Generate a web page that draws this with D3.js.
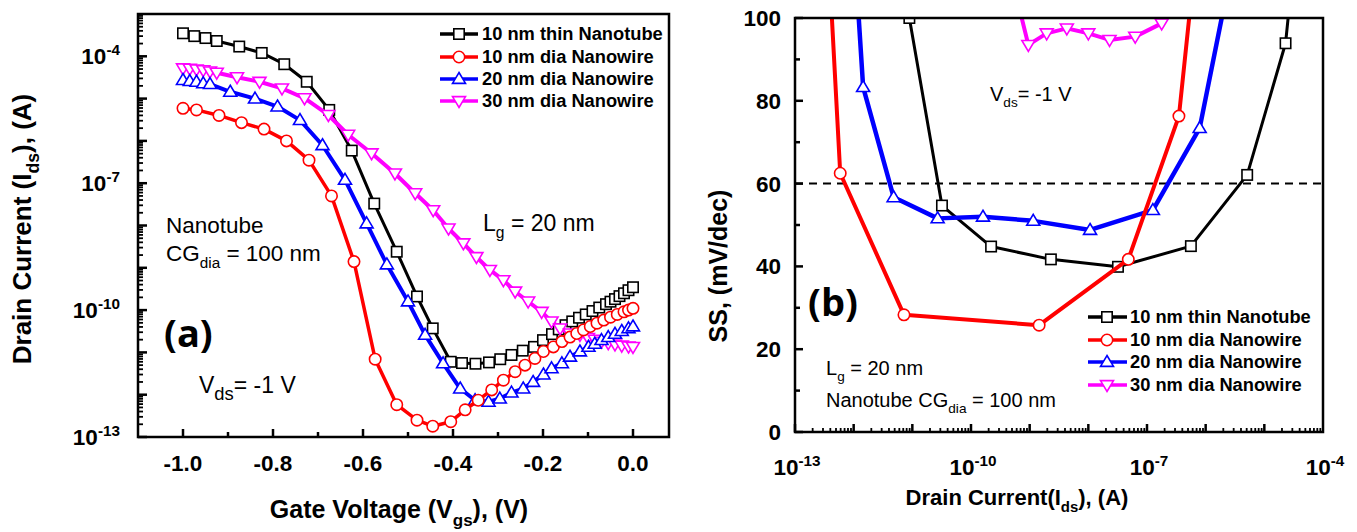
<!DOCTYPE html>
<html><head><meta charset="utf-8">
<script src="https://cdn.jsdelivr.net/npm/d3@7"></script>
<style>body{margin:0;background:#fff}svg{display:block}</style>
</head><body><svg id="c" width="1357" height="532"></svg>
<script>
// ---------- series meta ----------
const seriesNames = ["10 nm thin Nanotube","10 nm dia Nanowire","20 nm dia Nanowire","30 nm dia Nanowire"];
const seriesColors = ["#000000","#ff0000","#0000ff","#ff00ff"];
const seriesMarkers = ["square","circle","triangleUp","triangleDown"];

// ---------- panel (a): Ids vs Vgs ----------
const vgsNanotube = [-1.0,-0.975,-0.95,-0.925,-0.875,-0.825,-0.775,-0.725,-0.675,-0.625,-0.575,-0.525,-0.48,-0.445,-0.405,-0.38,-0.35,-0.32,-0.295,-0.27,-0.245,-0.22,-0.2,-0.18,-0.165,-0.15,-0.135,-0.12,-0.105,-0.09,-0.075,-0.06,-0.05,-0.04,-0.03,-0.02,-0.01,0.0];
const idsNanotube = [3.5e-4,3.0e-4,2.7e-4,2.3e-4,1.7e-4,1.2e-4,6.5e-5,2.5e-5,5.4e-6,5.9e-7,3.3e-8,2.4e-9,2.1e-10,3.7e-11,6.0e-12,5.6e-12,5.4e-12,5.8e-12,6.9e-12,8.7e-12,1.1e-11,1.35e-11,1.95e-11,2.7e-11,3.5e-11,4.4e-11,5.4e-11,6.6e-11,7.9e-11,9.5e-11,1.15e-10,1.38e-10,1.58e-10,1.82e-10,2.14e-10,2.5e-10,2.95e-10,3.47e-10];

const vgsNW10 = [-1.0,-0.97,-0.92,-0.87,-0.82,-0.77,-0.72,-0.67,-0.62,-0.573,-0.525,-0.48,-0.445,-0.405,-0.373,-0.344,-0.314,-0.288,-0.262,-0.24,-0.218,-0.199,-0.177,-0.158,-0.14,-0.125,-0.11,-0.095,-0.08,-0.065,-0.05,-0.035,-0.02,-0.01,0.0];
const idsNW10 = [5.9e-6,5.4e-6,4.0e-6,2.7e-6,1.9e-6,1.0e-6,3.5e-7,5.0e-8,1.4e-9,6.9e-12,5.8e-13,2.5e-13,1.8e-13,2.3e-13,4.4e-13,7.4e-13,1.3e-12,2.2e-12,3.5e-12,5.0e-12,7.2e-12,1.05e-11,1.35e-11,1.8e-11,2.3e-11,2.8e-11,3.4e-11,4.1e-11,4.9e-11,5.8e-11,6.8e-11,7.9e-11,9.1e-11,1.0e-10,1.1e-10];

const vgsNW20 = [-1.0,-0.985,-0.97,-0.955,-0.94,-0.895,-0.84,-0.79,-0.74,-0.69,-0.64,-0.592,-0.547,-0.5,-0.462,-0.422,-0.384,-0.351,-0.321,-0.296,-0.27,-0.244,-0.222,-0.199,-0.181,-0.158,-0.14,-0.118,-0.099,-0.085,-0.07,-0.055,-0.04,-0.025,-0.01,0.0];
const idsNW20 = [2.75e-5,2.6e-5,2.5e-5,2.3e-5,2.2e-5,1.45e-5,1.0e-5,6.5e-6,3.1e-6,7.9e-7,1.2e-7,1.12e-8,1.2e-9,1.6e-10,2.6e-11,5.5e-12,1.4e-12,7.4e-13,6.8e-13,8.1e-13,1.12e-12,1.4e-12,2.0e-12,3.0e-12,4.2e-12,5.5e-12,7.9e-12,1.05e-11,1.35e-11,1.6e-11,1.95e-11,2.3e-11,2.75e-11,3.2e-11,3.7e-11,4.1e-11];

const vgsNW30 = [-1.0,-0.985,-0.97,-0.955,-0.94,-0.925,-0.88,-0.83,-0.78,-0.73,-0.677,-0.633,-0.581,-0.529,-0.484,-0.444,-0.41,-0.377,-0.348,-0.318,-0.288,-0.262,-0.233,-0.203,-0.181,-0.162,-0.14,-0.118,-0.1,-0.085,-0.07,-0.055,-0.04,-0.025,-0.01,0.0];
const idsNW30 = [5.2e-5,5.1e-5,4.9e-5,4.7e-5,4.4e-5,4.1e-5,3.2e-5,2.5e-5,1.74e-5,1.02e-5,4.1e-6,1.4e-6,5.1e-7,1.7e-7,5.8e-8,2.3e-8,8.5e-9,3.8e-9,1.8e-9,8.9e-10,5.1e-10,2.75e-10,1.6e-10,9.1e-11,5.4e-11,3.7e-11,2.8e-11,2.6e-11,2.2e-11,2.0e-11,1.8e-11,1.66e-11,1.55e-11,1.45e-11,1.38e-11,1.35e-11];

// ---------- panel (b): SS vs Ids ----------
const ssIdsNanotube = [8.9e-12,3.2e-11,2.2e-10,2.3e-9,3.2e-8,5.6e-7,5.1e-6,2.3e-5,3.0e-5];
const ssNanotube    = [100,54.7,44.8,41.7,39.9,44.9,62.1,93.9,110];
const ssIdsNW10 = [3.9e-13,5.9e-13,7.2e-12,1.45e-9,4.8e-8,3.5e-7,6.2e-7];
const ssNW10    = [110,62.5,28.3,25.8,41.7,76.3,110];
const ssIdsNW20 = [1.1e-12,1.45e-12,4.8e-12,2.7e-11,1.6e-10,1.15e-9,1.07e-8,1.26e-7,7.9e-7,2.6e-6];
const ssNW20    = [110,83.3,56.7,51.6,52.0,51.0,48.8,53.6,73.4,110];
const ssIdsNW30 = [4.9e-10,9.5e-10,1.95e-9,4.3e-9,1.0e-8,2.3e-8,6.3e-8,1.78e-7,2.8e-7];
const ssNW30    = [110,93.5,96.3,97.5,96.3,94.7,95.5,98.7,110];
const ssIdealLimit = 60;

// ---------- tick labels ----------
const aXTicks = [-1.0,-0.8,-0.6,-0.4,-0.2,0.0];
const aXTickLabels = ["-1.0","-0.8","-0.6","-0.4","-0.2","0.0"];
const aYTickExps = [-4,-7,-10,-13];
const bXTickExps = [-13,-10,-7,-4];
const bYTicks = [0,20,40,60,80,100];

// ---------- drawing ----------
const svg = d3.select("#c");
svg.append("rect").attr("width",1357).attr("height",532).attr("fill","#fff");
const FONT = "'Liberation Sans', Arial, sans-serif";

const A = {l:138, r:669, t:14, b:437};
const B = {l:795, r:1323, t:18, b:432};
const xA = d3.scaleLinear().domain([-1.1, 0.08]).range([A.l, A.r]);
const yA = d3.scaleLog().domain([1e-13, 1e-3]).range([A.b, A.t]);
const xB = d3.scaleLog().domain([1e-13, 1e-4]).range([B.l, B.r]);
const yB = d3.scaleLinear().domain([0, 100]).range([B.b, B.t]);

const defs = svg.append("defs");
defs.append("clipPath").attr("id","clipA").append("rect").attr("x",A.l).attr("y",A.t).attr("width",A.r-A.l).attr("height",A.b-A.t);
defs.append("clipPath").attr("id","clipB").append("rect").attr("x",B.l).attr("y",B.t).attr("width",B.r-B.l).attr("height",B.b-B.t);

function drawMarker(g, type, x, y, color, s, sw) {
  if (type === "square") {
    g.append("rect").attr("x",x-s).attr("y",y-s).attr("width",2*s).attr("height",2*s)
      .attr("fill","#fff").attr("stroke",color).attr("stroke-width",sw);
  } else if (type === "circle") {
    g.append("circle").attr("cx",x).attr("cy",y).attr("r",s+0.5)
      .attr("fill","#fff").attr("stroke",color).attr("stroke-width",sw);
  } else if (type === "triangleUp") {
    const h = s*1.25;
    g.append("path").attr("d",`M${x},${y-h}L${x+h},${y+s*0.85}L${x-h},${y+s*0.85}Z`)
      .attr("fill","#fff").attr("stroke",color).attr("stroke-width",sw).attr("stroke-linejoin","miter");
  } else {
    const h = s*1.25;
    g.append("path").attr("d",`M${x},${y+h}L${x+h},${y-s*0.85}L${x-h},${y-s*0.85}Z`)
      .attr("fill","#fff").attr("stroke",color).attr("stroke-width",sw).attr("stroke-linejoin","miter");
  }
}

function drawSeries(g, xs, ys, sx, sy, i, lw, ms, msw) {
  const pts = xs.map((x,k)=>[sx(x), sy(ys[k])]);
  g.append("path").attr("d", d3.line()(pts)).attr("fill","none")
    .attr("stroke",seriesColors[i]).attr("stroke-width",lw).attr("stroke-linejoin","round");
  pts.forEach(p=>drawMarker(g, seriesMarkers[i], p[0], p[1], seriesColors[i], ms, msw));
}

// text with sub/superscripts: parts = [[text, "n"|"sub"|"sup"]]
function richText(g, x, y, parts, size, weight, anchor, family, subScale) {
  const t = g.append("text").attr("x",x).attr("y",y).attr("font-size",size)
    .attr("font-weight",weight||"normal").attr("text-anchor",anchor||"start")
    .attr("font-family",family||FONT).attr("fill","#000");
  let shift = 0;
  parts.forEach(([s,kind])=>{
    let target = kind==="sub" ? size*0.32 : kind==="sup" ? -size*0.42 : 0;
    const ts = t.append("tspan").text(s).attr("dy", target - shift);
    if (kind!=="n") ts.attr("font-size", size*(subScale||0.68));
    shift = target;
  });
  return t;
}

// ===== Panel (a) =====
const gA = svg.append("g");
const plotA = gA.append("g").attr("clip-path","url(#clipA)");
drawSeries(plotA, vgsNanotube, idsNanotube, xA, yA, 0, 3, 5.2, 1.6);
drawSeries(plotA, vgsNW30, idsNW30, xA, yA, 3, 4, 5.2, 1.6);
drawSeries(plotA, vgsNW20, idsNW20, xA, yA, 2, 4, 5.2, 1.6);
drawSeries(plotA, vgsNW10, idsNW10, xA, yA, 1, 3.5, 5.2, 1.6);

// ticks (a)
const tA = gA.append("g").attr("stroke","#000");
d3.range(-1.0, 0.051, 0.1).forEach(v=>{
  const major = Math.abs(Math.round(v*10)) % 2 === 0;
  tA.append("line").attr("x1",xA(v)).attr("x2",xA(v)).attr("y1",A.b).attr("y2",A.b-(major?8:5)).attr("stroke-width",2.5);
});
d3.range(-13, -3).forEach(e=>{
  for (let m=1;m<10;m++){
    const val = m*Math.pow(10,e);
    const y = yA(val);
    if (y < A.t) continue;
    tA.append("line").attr("x1",A.l).attr("x2",A.l+(m===1?9:5)).attr("y1",y).attr("y2",y).attr("stroke-width",m===1?2.5:1.8);
  }
});
gA.append("rect").attr("x",A.l).attr("y",A.t).attr("width",A.r-A.l).attr("height",A.b-A.t)
  .attr("fill","none").attr("stroke","#000").attr("stroke-width",2.5);

aXTicks.forEach((v,k)=>{
  gA.append("text").attr("x",xA(v)).attr("y",471).attr("text-anchor","middle")
    .attr("font-family",FONT).attr("font-weight","bold").attr("font-size",22.5).text(aXTickLabels[k]);
});
aYTickExps.forEach(e=>{
  richText(gA, 120, yA(Math.pow(10,e))+8, [["10","n"],[String(e),"sup"]], 22.5, "bold", "end");
});
richText(gA, 399, 518, [["Gate Voltage (V","n"],["gs","sub"],["), (V)","n"]], 25, "bold", "middle");
const yLabA = gA.append("g").attr("transform","translate(31,229) rotate(-90)");
richText(yLabA, 0, 0, [["Drain Current (I","n"],["ds","sub"],["), (A)","n"]], 26, "bold", "middle");

// annotations (a)
richText(gA, 166, 233, [["Nanotube","n"]], 22.5, "normal");
richText(gA, 166, 261, [["CG","n"],["dia","sub"],[" = 100 nm","n"]], 22.5, "normal");
richText(gA, 164, 347, [["(a)","n"]], 38, "bold", "start", "'Open Sans', sans-serif");
richText(gA, 199, 393, [["V","n"],["ds","sub"],["= -1 V","n"]], 23, "normal", "start", FONT, 0.8);
richText(gA, 483, 231, [["L","n"],["g","sub"],[" = 20 nm","n"]], 23, "normal");

// legend (a)
[34,57,79,101].forEach((y,i)=>{
  gA.append("line").attr("x1",440).attr("x2",478).attr("y1",y).attr("y2",y)
    .attr("stroke",seriesColors[i]).attr("stroke-width",3.5);
  drawMarker(gA, seriesMarkers[i], 459, y, seriesColors[i], 5.2, 1.6);
  gA.append("text").attr("x",482).attr("y",y+6).attr("font-family",FONT).attr("font-weight","bold")
    .attr("font-size",18.3).text(seriesNames[i]);
});

// ===== Panel (b) =====
const gB = svg.append("g");
const plotB = gB.append("g").attr("clip-path","url(#clipB)");
plotB.append("line").attr("x1",B.l).attr("x2",B.r).attr("y1",yB(ssIdealLimit)).attr("y2",yB(ssIdealLimit))
  .attr("stroke","#000").attr("stroke-width",2).attr("stroke-dasharray","8,6");
drawSeries(plotB, ssIdsNW30, ssNW30, xB, yB, 3, 4, 5.2, 1.6);
drawSeries(plotB, ssIdsNanotube, ssNanotube, xB, yB, 0, 3, 5.2, 1.6);
drawSeries(plotB, ssIdsNW20, ssNW20, xB, yB, 2, 4.5, 5.2, 1.6);
drawSeries(plotB, ssIdsNW10, ssNW10, xB, yB, 1, 4, 5.2, 1.6);

const tB = gB.append("g").attr("stroke","#000");
d3.range(-13, -4).forEach(e=>{
  for (let m=1;m<10;m++){
    const x = xB(m*Math.pow(10,e));
    tB.append("line").attr("x1",x).attr("x2",x).attr("y1",B.b).attr("y2",B.b-(m===1?8:4)).attr("stroke-width",m===1?2.5:1.8);
  }
});
d3.range(0, 101, 10).forEach(v=>{
  tB.append("line").attr("x1",B.l).attr("x2",B.l+(v%20===0?8:5)).attr("y1",yB(v)).attr("y2",yB(v)).attr("stroke-width",2.5);
});
gB.append("rect").attr("x",B.l).attr("y",B.t).attr("width",B.r-B.l).attr("height",B.b-B.t)
  .attr("fill","none").attr("stroke","#000").attr("stroke-width",2.5);

bYTicks.forEach(v=>{
  gB.append("text").attr("x",781).attr("y",yB(v)+8).attr("text-anchor","end")
    .attr("font-family",FONT).attr("font-weight","bold").attr("font-size",22.5).text(v);
});
bXTickExps.forEach(e=>{
  richText(gB, xB(Math.pow(10,e))+2, 475, [["10","n"],[String(e),"sup"]], 22.5, "bold", "middle");
});
richText(gB, 1017, 505, [["Drain Current(I","n"],["ds","sub"],["), (A)","n"]], 22, "bold", "middle");
const yLabB = gB.append("g").attr("transform","translate(727,266) rotate(-90)");
richText(yLabB, 0, 0, [["SS, (mV/dec)","n"]], 25, "bold", "middle");

// annotations (b)
richText(gB, 990, 101, [["V","n"],["ds","sub"],["= -1 V","n"]], 20, "normal");
richText(gB, 808, 316, [["(b)","n"]], 38, "bold", "start", "'Open Sans', sans-serif");
richText(gB, 826, 375, [["L","n"],["g","sub"],[" = 20 nm","n"]], 20, "normal");
richText(gB, 826, 407, [["Nanotube CG","n"],["dia","sub"],[" = 100 nm","n"]], 20, "normal");

// legend (b)
[317,340,362,385].forEach((y,i)=>{
  gB.append("line").attr("x1",1088).attr("x2",1127).attr("y1",y).attr("y2",y)
    .attr("stroke",seriesColors[i]).attr("stroke-width",3.5);
  drawMarker(gB, seriesMarkers[i], 1107, y, seriesColors[i], 5.2, 1.6);
  gB.append("text").attr("x",1130).attr("y",y+6).attr("font-family",FONT).attr("font-weight","bold")
    .attr("font-size",18.3).text(seriesNames[i]);
});
</script></body></html>
